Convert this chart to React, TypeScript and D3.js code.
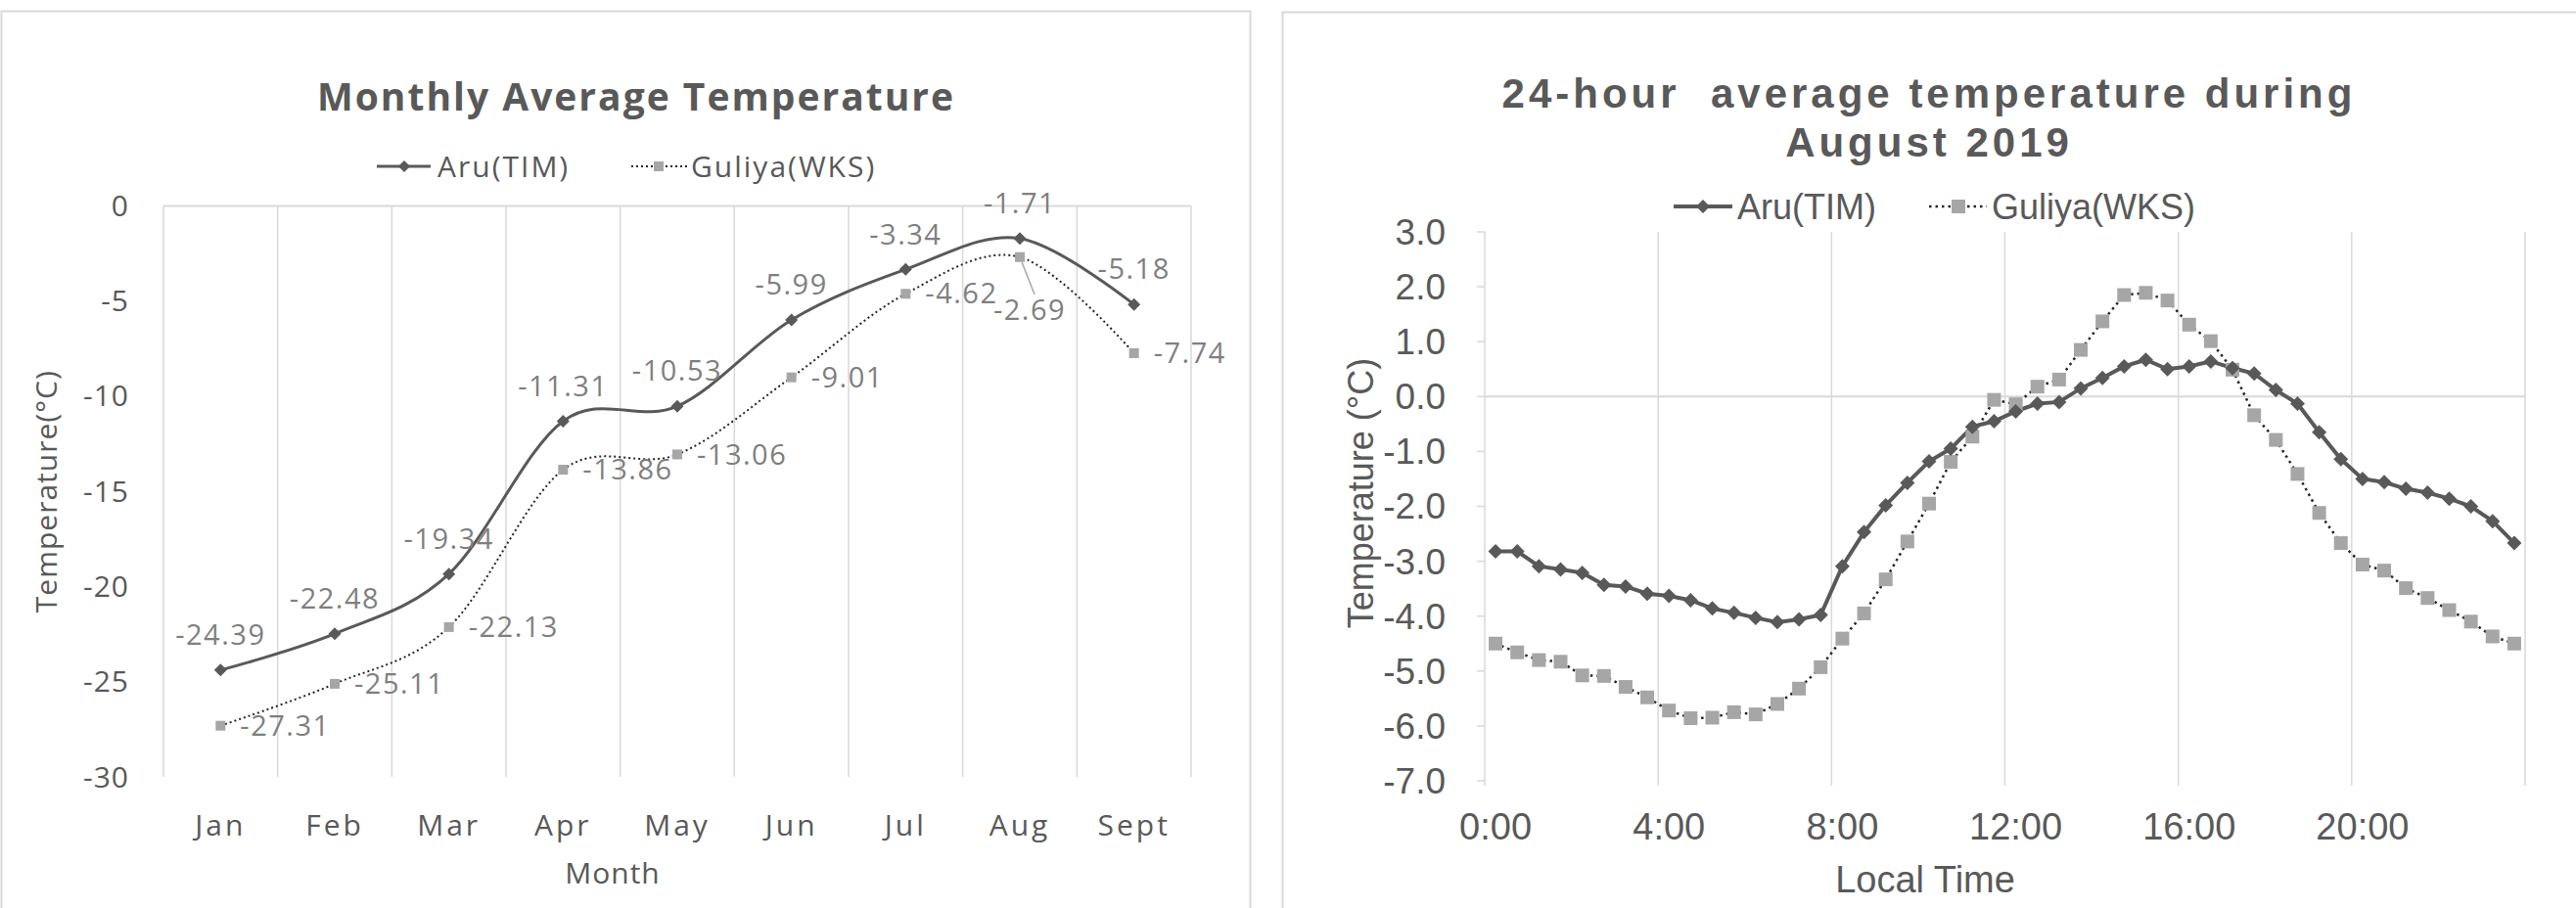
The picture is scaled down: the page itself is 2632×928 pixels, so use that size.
import React from 'react'
import * as d3 from 'd3'

// monthly chart
const months = ['Jan', 'Feb', 'Mar', 'Apr', 'May', 'Jun', 'Jul', 'Aug', 'Sept']
const aruMonthly = [-24.39, -22.48, -19.34, -11.31, -10.53, -5.99, -3.34, -1.71, -5.18]
const guliyaMonthly = [-27.31, -25.11, -22.13, -13.86, -13.06, -9.01, -4.62, -2.69, -7.74]
const monthlyTicks = [0, -5, -10, -15, -20, -25, -30]

// 24-hour chart, half-hourly categories
const halfHours = [
	'0:00', '0:30', '1:00', '1:30', '2:00', '2:30', '3:00', '3:30',
	'4:00', '4:30', '5:00', '5:30', '6:00', '6:30', '7:00', '7:30',
	'8:00', '8:30', '9:00', '9:30', '10:00', '10:30', '11:00', '11:30',
	'12:00', '12:30', '13:00', '13:30', '14:00', '14:30', '15:00', '15:30',
	'16:00', '16:30', '17:00', '17:30', '18:00', '18:30', '19:00', '19:30',
	'20:00', '20:30', '21:00', '21:30', '22:00', '22:30', '23:00', '23:30',
]
const hourTickLabels = ['0:00', '4:00', '8:00', '12:00', '16:00', '20:00']
const aruHourly = [
	-2.82, -2.82, -3.09, -3.15, -3.21, -3.43, -3.46, -3.59, -3.63, -3.71, -3.86, -3.94, -4.03, -4.11, -4.06, -3.98,
	-3.09, -2.47, -1.98, -1.57, -1.18, -0.95, -0.55, -0.45, -0.27, -0.13, -0.1, 0.15, 0.34, 0.55, 0.67, 0.5,
	0.55, 0.64, 0.52, 0.42, 0.12, -0.13, -0.65, -1.14, -1.5, -1.56, -1.68, -1.75, -1.86, -2.0, -2.27, -2.67,
]
const guliyaHourly = [
	-4.5, -4.66, -4.8, -4.83, -5.08, -5.09, -5.29, -5.48, -5.72, -5.86, -5.85, -5.75, -5.79, -5.6, -5.32, -4.93,
	-4.41, -3.95, -3.33, -2.64, -1.95, -1.19, -0.73, -0.06, -0.14, 0.18, 0.31, 0.85, 1.37, 1.85, 1.89, 1.75,
	1.31, 1.01, 0.49, -0.34, -0.79, -1.41, -2.12, -2.67, -3.06, -3.17, -3.49, -3.67, -3.89, -4.1, -4.37, -4.5,
]
const hourlyTicks = [3, 2, 1, 0, -1, -2, -3, -4, -5, -6, -7]

const TXT = '#595959'
const GRID = '#d9d9d9'
const SQUARE = '#a6a6a6'

const diamond = (x: number, y: number, r: number) =>
	`M${x},${y - r}L${x + r},${y}L${x},${y + r}L${x - r},${y}Z`

function MonthlyChart() {
	const font = "'Open Sans', sans-serif"
	const x = d3.scaleBand<string>().domain(months).range([167, 1217])
	const y = d3.scaleLinear().domain([-30, 0]).range([794, 210.4])
	const cx = (i: number) => (x(months[i]) as number) + x.bandwidth() / 2

	const smooth = d3
		.line<number>()
		.x((_, i) => cx(i))
		.y((d) => y(d))
		.curve(d3.curveCatmullRom.alpha(0))

	const gridXs = months.map((m) => x(m) as number).concat([1217])

	return (
		<g fontFamily={font} fill={TXT}>
			<rect x={1.5} y={11.5} width={1276} height={940} fill="#fff" stroke={GRID} strokeWidth={2} />
			<text x={650} y={113} textAnchor="middle" fontSize={39} fontWeight={700} letterSpacing={2}>
				Monthly Average Temperature
			</text>

			{/* legend */}
			<line x1={385} x2={440} y1={170} y2={170} stroke={TXT} strokeWidth={3} />
			<path d={diamond(413, 170, 6)} fill={TXT} />
			<text x={447} y={170} dy="0.35em" fontSize={30} letterSpacing={2}>Aru(TIM)</text>
			<line x1={645} x2={702} y1={170} y2={170} stroke="#262626" strokeWidth={2} strokeDasharray="2 3" />
			<rect x={668} y={165} width={10} height={10} fill={SQUARE} />
			<text x={706} y={170} dy="0.35em" fontSize={30} letterSpacing={2}>Guliya(WKS)</text>

			{/* grid */}
			{gridXs.map((gx, i) => (
				<line key={i} x1={gx} x2={gx} y1={y(0)} y2={y(-30)} stroke={GRID} strokeWidth={1.5} />
			))}
			<line x1={167} x2={1217} y1={y(0)} y2={y(0)} stroke={GRID} strokeWidth={2} />

			{/* y axis */}
			{monthlyTicks.map((t) => (
				<text key={t} x={132} y={y(t)} dy="0.35em" textAnchor="end" fontSize={30} letterSpacing={1}>
					{t}
				</text>
			))}
			<text
				transform={`translate(47,${(y(0) + y(-30)) / 2}) rotate(-90)`}
				textAnchor="middle"
				dy="0.35em"
				fontSize={30}
				letterSpacing={1}
			>
				Temperature(°C)
			</text>

			{/* x axis */}
			{months.map((m, i) => (
				<text key={m} x={cx(i)} y={843} dy="0.35em" textAnchor="middle" fontSize={30} letterSpacing={3}>
					{m}
				</text>
			))}
			<text x={626} y={892} dy="0.35em" textAnchor="middle" fontSize={30} letterSpacing={1}>
				Month
			</text>

			{/* series */}
			<path d={smooth(guliyaMonthly) as string} fill="none" stroke="#262626" strokeWidth={2} strokeDasharray="2 3" />
			<path d={smooth(aruMonthly) as string} fill="none" stroke={TXT} strokeWidth={3} />
			{guliyaMonthly.map((v, i) => (
				<rect key={i} x={cx(i) - 5} y={y(v) - 5} width={10} height={10} fill={SQUARE} />
			))}
			{aruMonthly.map((v, i) => (
				<path key={i} d={diamond(cx(i), y(v), 6.5)} fill={TXT} />
			))}

			{/* data labels */}
			{aruMonthly.map((v, i) => (
				<text key={i} x={cx(i)} y={y(v) - 36} dy="0.35em" textAnchor="middle" fontSize={29} letterSpacing={1.5} fill="#7f7f7f">
					{v.toFixed(2)}
				</text>
			))}
			{guliyaMonthly.map((v, i) =>
				i === 7 ? (
					<g key={i}>
						<line x1={cx(i) + 2} y1={y(v) + 5} x2={cx(i) + 15} y2={y(v) + 38} stroke={SQUARE} strokeWidth={1.5} />
						<text x={cx(i) + 10} y={y(v) + 54} dy="0.35em" textAnchor="middle" fontSize={29} letterSpacing={1.5} fill="#7f7f7f">
							{v.toFixed(2)}
						</text>
					</g>
				) : (
					<text key={i} x={cx(i) + 20} y={y(v)} dy="0.35em" fontSize={29} letterSpacing={1.5} fill="#7f7f7f">
						{v.toFixed(2)}
					</text>
				)
			)}
		</g>
	)
}

function HourlyChart() {
	const font = "'Liberation Sans', Arial, sans-serif"
	const x = d3.scaleBand<string>().domain(halfHours).range([1517, 2580])
	const y = d3.scaleLinear().domain([-7, 3]).range([798, 237])
	const cx = (i: number) => (x(halfHours[i]) as number) + x.bandwidth() / 2

	const line = d3
		.line<number>()
		.x((_, i) => cx(i))
		.y((d) => y(d))

	const gridXs = hourTickLabels.map((h) => x(h) as number).concat([2580])

	return (
		<g fontFamily={font} fill={TXT}>
			<rect x={1310.5} y={12.5} width={1340} height={940} fill="#fff" stroke={GRID} strokeWidth={2} />
			<text x={1971} y={110} textAnchor="middle" fontSize={42} fontWeight={700} letterSpacing={4}>
				{'24-hour\u00a0 average temperature during'}
			</text>
			<text x={1971} y={160} textAnchor="middle" fontSize={42} fontWeight={700} letterSpacing={4}>
				August 2019
			</text>

			{/* legend */}
			<line x1={1710} x2={1770} y1={211} y2={211} stroke={TXT} strokeWidth={4} />
			<path d={diamond(1740, 211, 7)} fill={TXT} />
			<text x={1775} y={211} dy="0.35em" fontSize={36}>Aru(TIM)</text>
			<line x1={1971} x2={2030} y1={211} y2={211} stroke="#262626" strokeWidth={2.5} strokeDasharray="2.5 4" />
			<rect x={1994} y={204} width={14} height={14} fill={SQUARE} />
			<text x={2035} y={211} dy="0.35em" fontSize={36}>Guliya(WKS)</text>

			{/* grid */}
			{gridXs.map((gx, i) => (
				<line key={i} x1={gx} x2={gx} y1={y(3)} y2={y(-7) + 5} stroke={GRID} strokeWidth={1.5} />
			))}
			<line x1={1517} x2={2580} y1={y(0)} y2={y(0)} stroke={GRID} strokeWidth={2} />

			{/* y axis */}
			{hourlyTicks.map((t) => (
				<g key={t}>
					<line x1={1509} x2={1517} y1={y(t)} y2={y(t)} stroke={GRID} strokeWidth={1.5} />
					<text x={1477} y={y(t)} dy="0.35em" textAnchor="end" fontSize={37}>
						{t.toFixed(1)}
					</text>
				</g>
			))}
			<text
				transform={`translate(1390,504) rotate(-90)`}
				textAnchor="middle"
				dy="0.35em"
				fontSize={36}
			>
				Temperature (°C)
			</text>

			{/* x axis */}
			{hourTickLabels.map((h) => (
				<text key={h} x={cx(halfHours.indexOf(h))} y={845} dy="0.35em" textAnchor="middle" fontSize={38}>
					{h}
				</text>
			))}
			<text x={1967} y={899} dy="0.35em" textAnchor="middle" fontSize={38}>
				Local Time
			</text>

			{/* series */}
			<path d={line(guliyaHourly) as string} fill="none" stroke="#262626" strokeWidth={2.5} strokeDasharray="2.5 4" />
			<path d={line(aruHourly) as string} fill="none" stroke={TXT} strokeWidth={4} />
			{guliyaHourly.map((v, i) => (
				<rect key={i} x={cx(i) - 7} y={y(v) - 7} width={14} height={14} fill={SQUARE} />
			))}
			{aruHourly.map((v, i) => (
				<path key={i} d={diamond(cx(i), y(v), 7.5)} fill={TXT} />
			))}
		</g>
	)
}

export default function App() {
	return (
		<svg
			width={2632}
			height={928}
			style={{ position: 'absolute', left: 0, top: 0, display: 'block', background: '#fff' }}
		>
			<MonthlyChart />
			<HourlyChart />
		</svg>
	)
}
